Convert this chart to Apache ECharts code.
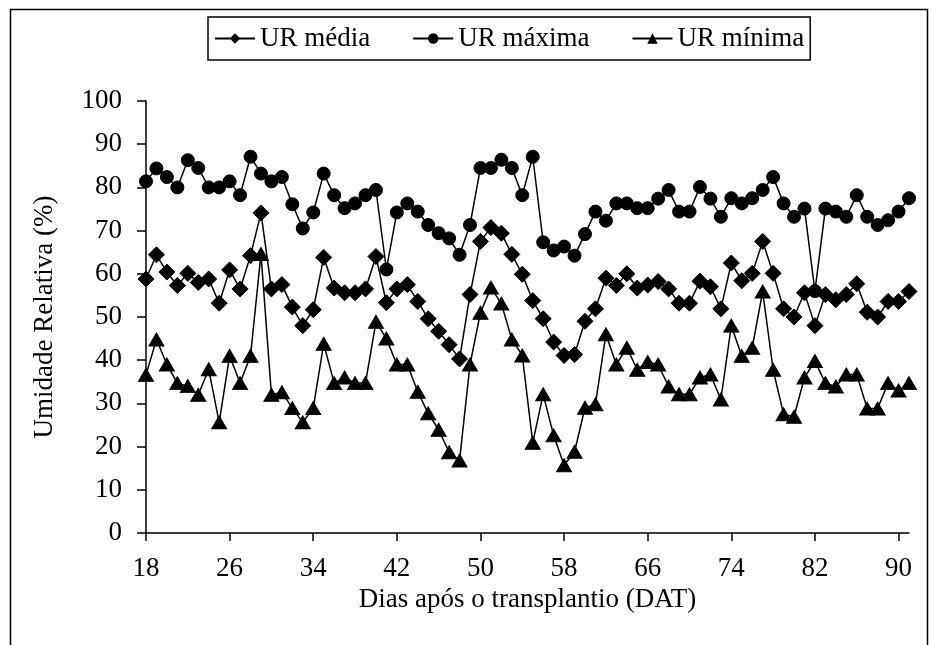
<!DOCTYPE html>
<html>
<head>
<meta charset="utf-8">
<script src="https://cdn.jsdelivr.net/npm/echarts@6/dist/echarts.min.js"></script>
<style>
html,body{margin:0;padding:0;background:#fff;}
#chart{width:933px;height:645px;}
</style>
</head>
<body>
<div id="chart"></div>
<script>
const days = [];
for (let d = 18; d <= 91; d++) days.push(String(d));

const urMedia = [58.8,64.4,60.4,57.3,60.1,58.0,58.8,53.2,60.9,56.5,64.2,74.1,56.5,57.5,52.3,48.0,51.7,63.8,56.7,55.6,55.6,56.5,64.0,53.3,56.5,57.5,53.6,49.6,46.7,43.6,40.3,55.2,67.5,70.7,69.4,64.5,59.9,53.8,49.6,44.2,41.1,41.3,49.0,51.9,59.0,57.3,60.0,56.7,57.4,58.2,56.5,53.2,53.2,58.3,57.0,51.9,62.5,58.4,60.1,67.5,60.1,51.9,50.0,55.6,48.0,55.2,54.0,55.2,57.7,51.1,50.0,53.6,53.6,55.9];

const urMaxima = [81.4,84.4,82.4,80.0,86.3,84.5,80.0,80.0,81.4,78.2,87.1,83.2,81.4,82.4,76.1,70.5,74.2,83.2,78.2,75.2,76.3,78.2,79.4,61.0,74.2,76.3,74.4,71.3,69.4,68.2,64.4,71.3,84.5,84.5,86.4,84.5,78.2,87.1,67.3,65.4,66.3,64.2,69.2,74.4,72.3,76.3,76.3,75.2,75.2,77.4,79.4,74.4,74.4,80.1,77.4,73.2,77.5,76.3,77.5,79.4,82.4,76.3,73.2,75.1,56.0,75.1,74.4,73.2,78.2,73.2,71.3,72.4,74.4,77.5];

const urMinima = [36.6,44.8,39.0,34.7,34.0,32.0,37.9,25.6,41.0,34.7,41.0,64.6,32.0,32.6,28.9,25.6,28.9,43.8,34.7,36.0,34.7,34.7,48.9,45.0,39.0,39.0,32.7,27.7,23.9,18.7,16.8,39.0,51.0,56.8,53.1,44.8,41.1,20.9,32.1,22.6,15.7,18.8,29.0,29.8,46.0,39.0,42.9,37.8,39.6,39.0,33.9,32.1,32.1,36.0,36.7,30.9,48.0,41.0,42.9,55.9,37.8,27.5,26.9,36.0,39.8,34.7,33.9,36.7,36.7,28.8,28.8,34.7,33.0,34.7];

const seriesNames = ['UR média', 'UR máxima', 'UR mínima'];
const xTitle = 'Dias após o transplantio (DAT)';
const yTitle = 'Umidade Relativa (%)';

const FONT = '"Liberation Serif", "Times New Roman", serif';
const chart = echarts.init(document.getElementById('chart'), null, {renderer: 'canvas'});

function mk(name, data, symbol, size) {
  return {
    name: name, type: 'line', data: data,
    symbol: symbol, symbolSize: size, showSymbol: true, showAllSymbol: true,
    lineStyle: {color: '#000', width: 1.5},
    itemStyle: {color: '#000', borderColor: '#000'},
    emphasis: {disabled: true},
    animation: false
  };
}

const every8 = function (idx) { return idx % 8 === 0; };

chart.setOption({
  animation: false,
  backgroundColor: '#fff',
  graphic: [{
    type: 'rect', left: 8, top: 7,
    shape: {width: 917, height: 700},
    style: {fill: 'none', stroke: '#000', lineWidth: 1.5},
    silent: true
  }],
  legend: {
    left: 208, top: 17,
    padding: [8, 6],
    itemGap: 42,
    itemWidth: 40, itemHeight: 13,
    borderColor: '#000', borderWidth: 1.5,
    textStyle: {fontFamily: FONT, fontSize: 27, color: '#000'},
    data: seriesNames
  },
  grid: {left: 146, right: 24, top: 101, bottom: 112, containLabel: false},
  xAxis: {
    type: 'category', data: days, boundaryGap: false,
    axisLine: {lineStyle: {color: '#000', width: 1.5}},
    axisTick: {interval: every8, length: 8, lineStyle: {color: '#000', width: 1.5}},
    axisLabel: {interval: every8, margin: 22, fontFamily: FONT, fontSize: 27, color: '#000'},
    splitLine: {show: false},
    name: xTitle, nameLocation: 'middle', nameGap: 52,
    nameTextStyle: {fontFamily: FONT, fontSize: 27, color: '#000'}
  },
  yAxis: {
    type: 'value', min: 0, max: 100, interval: 10,
    axisLine: {show: true, lineStyle: {color: '#000', width: 1.5}},
    axisTick: {show: true, length: 9, lineStyle: {color: '#000', width: 1.5}},
    axisLabel: {margin: 24, fontFamily: FONT, fontSize: 27, color: '#000'},
    splitLine: {show: false},
    name: yTitle, nameLocation: 'middle', nameGap: 88,
    nameTextStyle: {fontFamily: FONT, fontSize: 27, color: '#000'}
  },
  series: [
    mk(seriesNames[0], urMedia, 'diamond', 16),
    mk(seriesNames[1], urMaxima, 'circle', 13),
    mk(seriesNames[2], urMinima, 'triangle', [15, 13])
  ]
});
</script>
</body>
</html>
